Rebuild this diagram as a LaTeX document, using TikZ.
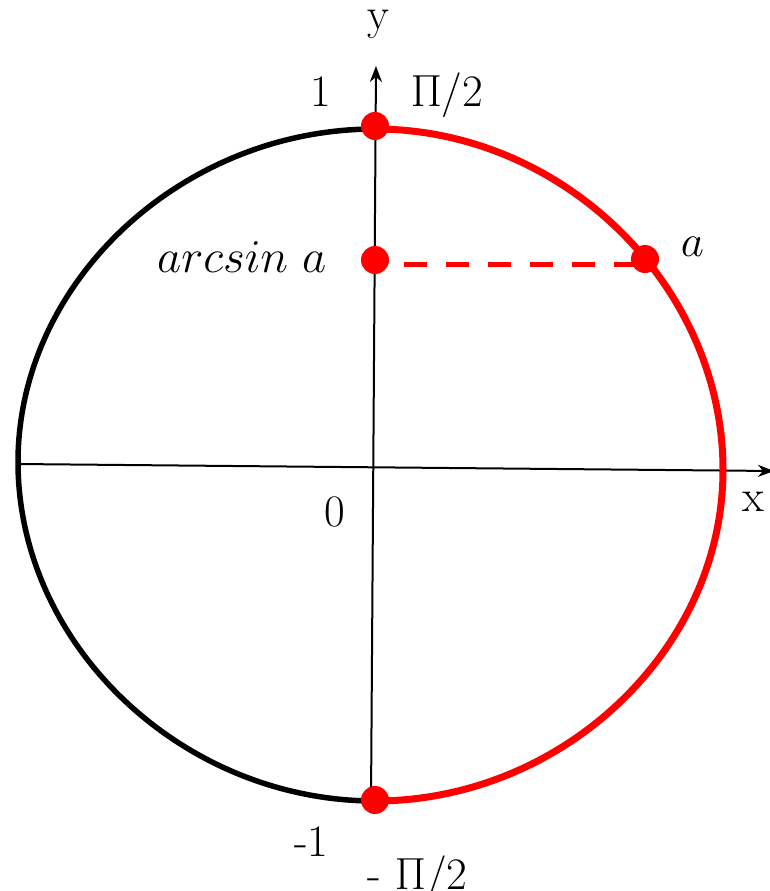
\RequirePackage{fix-cm}
\documentclass[tikz,border=0pt]{standalone}
\usetikzlibrary{arrows.meta}
\DeclareMathSizes{45}{45}{32}{23}
\DeclareMathSizes{47}{47}{33}{24}
\tikzset{
  axis/.style={line width=2pt, black, -{Stealth[length=16pt,width=12pt,inset=5pt]}},
  leftarc/.style={line width=5.5pt, black},
  rightarc/.style={line width=7pt, red},
  dotnode/.style={circle, fill=red, minimum size=28pt, inner sep=0pt},
  reddash/.style={line width=5pt, red, dash pattern=on 23pt off 19pt},
  lbl/.style={font=\fontsize{45}{52}\selectfont, inner sep=0pt, anchor=base},
}
\begin{document}
\begin{tikzpicture}[x=1pt,y=-1pt]
\useasboundingbox (0,0) rectangle (769,891);
% curve key points
\coordinate (cT) at (375,129);
\coordinate (cR) at (723,470);
\coordinate (cB) at (375,801);
\coordinate (cL) at (18,462);
% axes ends
\coordinate (xs) at (17,464);
\coordinate (xe) at (774,471);
\coordinate (ys) at (371,801);
\coordinate (ye) at (376,66);
% axes
\draw[axis] (xs) -- (xe);
\draw[axis] (ys) -- (ye);
% black left half
\draw[leftarc] (cT) .. controls (182,129) and (18,282) .. (cL)
                    .. controls (18,645) and (182,801) .. (cB);
% red right half
\draw[rightarc] (cT) .. controls (563,129) and (723,286) .. (cR)
                     .. controls (723,649) and (563,801) .. (cB);
% dots
\node[dotnode] (T) at (375,126) {};
\node[dotnode] (B) at (375,800) {};
\node[dotnode] (A) at (645,259) {};
\node[dotnode] (S) at (375,260) {};
\coordinate (dstart) at (404,264);
\draw[reddash] (dstart) -- (A.center |- dstart);
% labels
\node[lbl] (ly) at (378.5,30) {y};
\node[lbl] (lone) at (320.5,106) {1};
\node[lbl] (lpi) at (447,106) {$\Pi$/2};
\node[lbl] (lzero) at (335,526) {0};
\node[lbl] (lx) at (753,511) {x};
\node[lbl] (la) at (692.5,256) {$a$};
\node[lbl, anchor=base west, font=\fontsize{47}{54}\selectfont] (las) at (157,272) {$arcsin\ a$};
\node[lbl] (lmone) at (311.5,856) {-1};
\node[lbl] (lmpi) at (417.5,889) {- $\Pi$/2};
\end{tikzpicture}
\end{document}
